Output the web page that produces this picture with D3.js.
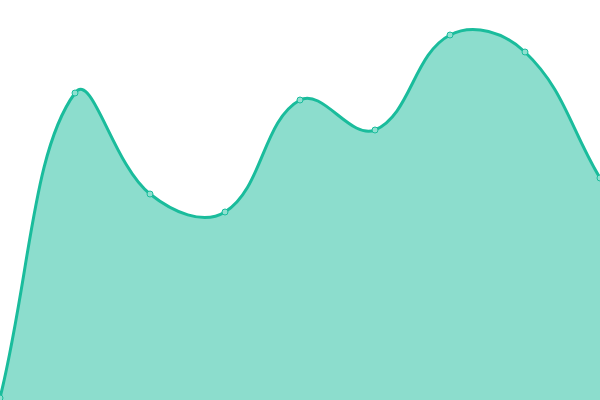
<!DOCTYPE html>
<html>
<head>
<meta charset="utf-8">
<script src="https://cdn.jsdelivr.net/npm/d3@7"></script>
<style>
  body { margin: 0; background: #fff; }
</style>
</head>
<body>
<div id="chart"></div>
<script>
// values (no axes shown, y domain 0..400)
const xIndex = [0, 1, 2, 3, 4, 5, 6, 7, 8];
const values = [2, 307, 206, 188, 300, 270, 365, 348, 222];

const lineColor = "#1abc9c";
const fillColor = "rgba(26, 188, 156, 0.5)";
const markerFill = "#8fe0d0";

const width = 600;
const height = 400;

// spline with tension, control points scaled by neighbour distances
function tensionSpline(tension) {
  function Spline(context) { this._context = context; }
  Spline.prototype = {
    areaStart() { this._line = 0; },
    areaEnd() { this._line = NaN; },
    lineStart() { this._pts = []; },
    point(x, y) { this._pts.push([+x, +y]); },
    lineEnd() {
      const p = this._pts, n = p.length, ctx = this._context;
      if (n) {
        if (this._line) ctx.lineTo(p[0][0], p[0][1]);
        else ctx.moveTo(p[0][0], p[0][1]);
        const cps = p.map((cur, i) => {
          const prev = p[i - 1] || cur;
          const next = p[i + 1] || cur;
          const d01 = Math.hypot(cur[0] - prev[0], cur[1] - prev[1]);
          const d12 = Math.hypot(next[0] - cur[0], next[1] - cur[1]);
          let s01 = d01 / (d01 + d12), s12 = d12 / (d01 + d12);
          if (isNaN(s01)) s01 = 0;
          if (isNaN(s12)) s12 = 0;
          const fa = tension * s01, fb = tension * s12;
          const dx = next[0] - prev[0], dy = next[1] - prev[1];
          return {
            prev: [cur[0] - fa * dx, cur[1] - fa * dy],
            next: [cur[0] + fb * dx, cur[1] + fb * dy]
          };
        });
        for (let i = 1; i < n; i++) {
          const a = cps[i - 1].next, b = cps[i].prev;
          ctx.bezierCurveTo(a[0], a[1], b[0], b[1], p[i][0], p[i][1]);
        }
      }
      if (this._line || (this._line !== 0 && n === 1)) ctx.closePath();
      this._line = 1 - this._line;
    }
  };
  return context => new Spline(context);
}

const curve = tensionSpline(0.4);

const svg = d3.select("#chart")
  .append("svg")
  .attr("width", width)
  .attr("height", height);

const xScale = d3.scaleLinear().domain([0, 8]).range([0, width]);
const yScale = d3.scaleLinear().domain([0, 400]).range([height, 0]);

const data = xIndex.map((x, i) => ({ x: x, y: values[i] }));

const area = d3.area()
  .curve(curve)
  .x(d => xScale(d.x))
  .y0(yScale(0))
  .y1(d => yScale(d.y));

const line = d3.line()
  .curve(curve)
  .x(d => xScale(d.x))
  .y(d => yScale(d.y));

svg.append("path")
  .datum(data)
  .attr("fill", fillColor)
  .attr("d", area);

svg.append("path")
  .datum(data)
  .attr("fill", "none")
  .attr("stroke", lineColor)
  .attr("stroke-width", 3)
  .attr("d", line);

svg.selectAll("circle")
  .data(data)
  .join("circle")
  .attr("cx", d => xScale(d.x))
  .attr("cy", d => yScale(d.y))
  .attr("r", 3)
  .attr("fill", markerFill)
  .attr("stroke", lineColor)
  .attr("stroke-width", 1);
</script>
</body>
</html>
